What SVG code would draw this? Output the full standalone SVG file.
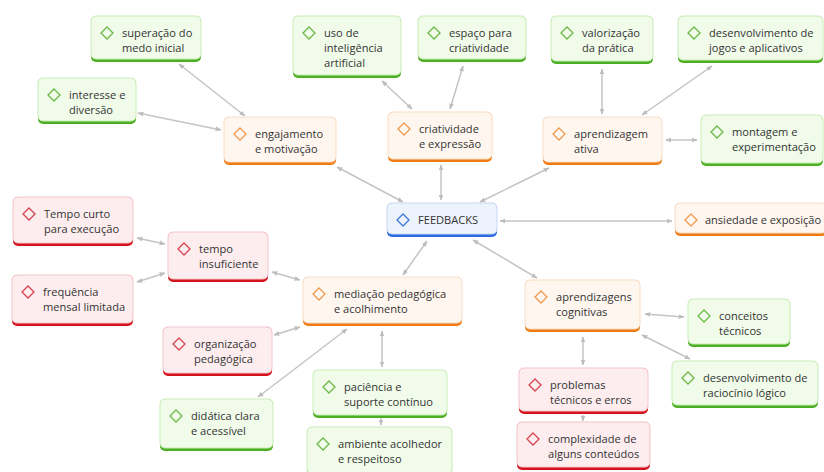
<svg xmlns="http://www.w3.org/2000/svg" width="824" height="472" viewBox="0 0 824 472">
<defs>
<style>
.t{font-family:"Open Sans","Noto Sans","DejaVu Sans",sans-serif;font-size:11.1px;font-weight:500;fill:#333333}
.gb{fill:#f0fbea;stroke:#c9eeb6;stroke-width:1}
.gk{fill:#4caf22}
.gi{fill:none;stroke:#6cb848;stroke-width:1.3}
.ob{fill:#fef6ef;stroke:#f8dcc4;stroke-width:1}
.ok{fill:#f27a12}
.oi{fill:none;stroke:#ef9a50;stroke-width:1.3}
.rb{fill:#fdedef;stroke:#f3c5cb;stroke-width:1}
.rk{fill:#d4141c}
.ri{fill:none;stroke:#d6424f;stroke-width:1.3}
.bb{fill:#edf3fd;stroke:#c6d8f4;stroke-width:1}
.bk{fill:#2a6be0}
.bi{fill:none;stroke:#3b78d6;stroke-width:1.3}
.c path{fill:none;stroke:#c4c4c4;stroke-width:1.5;marker-start:url(#ah);marker-end:url(#ah)}
.c path.one{marker-start:none}
</style>
<marker id="ah" viewBox="0 0 10 10" refX="9" refY="5" markerWidth="6" markerHeight="6" markerUnits="userSpaceOnUse" orient="auto-start-reverse"><path d="M0,1 L10,5 L0,9 z" fill="#bdbdbd"/></marker>
</defs>
<rect width="824" height="472" fill="#ffffff"/>
<g class="c" id="connectors">
<path d="M179,64 L245,116"/>
<path d="M138,113 L221,130"/>
<path d="M382,81 L412,109"/>
<path d="M463,66 L450,109"/>
<path d="M602,69 L602,114"/>
<path d="M712,66 L642,115"/>
<path d="M666,140 L697,140"/>
<path d="M337,167 L403,202"/>
<path d="M441,165 L441,200"/>
<path d="M549,168 L480,202"/>
<path d="M500,221 L672,221"/>
<path d="M427,241 L403,275"/>
<path d="M473,240 L537,278"/>
<path d="M137,238 L165,244"/>
<path d="M137,282 L165,273"/>
<path d="M272,272 L300,280"/>
<path d="M274,335 L300,327"/>
<path d="M258,397 L347,329"/>
<path d="M382,331 L382,367"/>
<path class="one" d="M381,418 L381,425"/>
<path d="M645,314 L684,317"/>
<path d="M642,335 L690,359"/>
<path d="M583,337 L583,365"/>
<path class="one" d="M583,415 L583,421"/>
</g>

<g id="n-superacao"><rect class="gk" x="91" y="16" width="110" height="46" rx="5"/><rect class="gb" x="91" y="16" width="110" height="43" rx="5"/><path class="gi" d="M107,27 l6,6 l-6,6 l-6,-6 z"/><text class="t" x="122" y="37">superação do<tspan x="122" dy="15">medo inicial</tspan></text></g>

<g id="n-interesse"><rect class="gk" x="38" y="78" width="98" height="46" rx="5"/><rect class="gb" x="38" y="78" width="98" height="43" rx="5"/><path class="gi" d="M54,89 l6,6 l-6,6 l-6,-6 z"/><text class="t" x="69" y="99">interesse e<tspan x="69" dy="15">diversão</tspan></text></g>

<g id="n-engajamento"><rect class="ok" x="224" y="117" width="112" height="48" rx="5"/><rect class="ob" x="224" y="117" width="112" height="45" rx="5"/><path class="oi" d="M240,128 l6,6 l-6,6 l-6,-6 z"/><text class="t" x="255" y="138">engajamento<tspan x="255" dy="15">e motivação</tspan></text></g>

<g id="n-usoia"><rect class="gk" x="293" y="16" width="108" height="62" rx="5"/><rect class="gb" x="293" y="16" width="108" height="59" rx="5"/><path class="gi" d="M309,27 l6,6 l-6,6 l-6,-6 z"/><text class="t" x="324" y="37">uso de<tspan x="324" dy="15">inteligência</tspan><tspan x="324" dy="15">artificial</tspan></text></g>

<g id="n-espaco"><rect class="gk" x="418" y="16" width="108" height="46" rx="5"/><rect class="gb" x="418" y="16" width="108" height="43" rx="5"/><path class="gi" d="M434,27 l6,6 l-6,6 l-6,-6 z"/><text class="t" x="449" y="37">espaço para<tspan x="449" dy="15">criatividade</tspan></text></g>

<g id="n-criatividade"><rect class="ok" x="388" y="112" width="104" height="50" rx="5"/><rect class="ob" x="388" y="112" width="104" height="47" rx="5"/><path class="oi" d="M404,123 l6,6 l-6,6 l-6,-6 z"/><text class="t" x="419" y="133">criatividade<tspan x="419" dy="15">e expressão</tspan></text></g>

<g id="n-valorizacao"><rect class="gk" x="551" y="16" width="102" height="48" rx="5"/><rect class="gb" x="551" y="16" width="102" height="45" rx="5"/><path class="gi" d="M567,27 l6,6 l-6,6 l-6,-6 z"/><text class="t" x="582" y="37">valorização<tspan x="582" dy="15">da prática</tspan></text></g>

<g id="n-jogos"><rect class="gk" x="678" y="16" width="145" height="47" rx="5"/><rect class="gb" x="678" y="16" width="145" height="44" rx="5"/><path class="gi" d="M694,27 l6,6 l-6,6 l-6,-6 z"/><text class="t" x="709" y="37">desenvolvimento de<tspan x="709" dy="15">jogos e aplicativos</tspan></text></g>

<g id="n-aprendativa"><rect class="ok" x="543" y="117" width="119" height="48" rx="5"/><rect class="ob" x="543" y="117" width="119" height="45" rx="5"/><path class="oi" d="M559,128 l6,6 l-6,6 l-6,-6 z"/><text class="t" x="574" y="138">aprendizagem<tspan x="574" dy="15">ativa</tspan></text></g>

<g id="n-montagem"><rect class="gk" x="701" y="115" width="122" height="51" rx="5"/><rect class="gb" x="701" y="115" width="122" height="48" rx="5"/><path class="gi" d="M717,126 l6,6 l-6,6 l-6,-6 z"/><text class="t" x="732" y="136">montagem e<tspan x="732" dy="15">experimentação</tspan></text></g>

<g id="n-feedbacks"><rect class="bk" x="387" y="203" width="110" height="34" rx="5"/><rect class="bb" x="387" y="203" width="110" height="31" rx="5"/><path class="bi" d="M403,214 l6,6 l-6,6 l-6,-6 z"/><text class="t" x="418" y="224">FEEDBACKS</text></g>

<g id="n-ansiedade"><rect class="ok" x="675" y="203" width="152" height="33" rx="5"/><rect class="ob" x="675" y="203" width="152" height="30" rx="5"/><path class="oi" d="M691,214 l6,6 l-6,6 l-6,-6 z"/><text class="t" x="705" y="224" textLength="116" lengthAdjust="spacingAndGlyphs">ansiedade e exposição</text></g>

<g id="n-tempocurto"><rect class="rk" x="13" y="197" width="120" height="49" rx="5"/><rect class="rb" x="13" y="197" width="120" height="46" rx="5"/><path class="ri" d="M29,208 l6,6 l-6,6 l-6,-6 z"/><text class="t" x="44" y="218">Tempo curto<tspan x="44" dy="15">para execução</tspan></text></g>

<g id="n-tempoinsuf"><rect class="rk" x="168" y="232" width="100" height="50" rx="5"/><rect class="rb" x="168" y="232" width="100" height="47" rx="5"/><path class="ri" d="M184,243 l6,6 l-6,6 l-6,-6 z"/><text class="t" x="199" y="253">tempo<tspan x="199" dy="15">insuficiente</tspan></text></g>

<g id="n-frequencia"><rect class="rk" x="12" y="275" width="121" height="51" rx="5"/><rect class="rb" x="12" y="275" width="121" height="48" rx="5"/><path class="ri" d="M28,286 l6,6 l-6,6 l-6,-6 z"/><text class="t" x="43" y="296">frequência<tspan x="43" dy="15">mensal limitada</tspan></text></g>

<g id="n-mediacao"><rect class="ok" x="303" y="277" width="159" height="49" rx="5"/><rect class="ob" x="303" y="277" width="159" height="46" rx="5"/><path class="oi" d="M319,288 l6,6 l-6,6 l-6,-6 z"/><text class="t" x="334" y="298">mediação pedagógica<tspan x="334" dy="15">e acolhimento</tspan></text></g>

<g id="n-aprendcog"><rect class="ok" x="525" y="280" width="115" height="52" rx="5"/><rect class="ob" x="525" y="280" width="115" height="49" rx="5"/><path class="oi" d="M541,291 l6,6 l-6,6 l-6,-6 z"/><text class="t" x="556" y="301">aprendizagens<tspan x="556" dy="15">cognitivas</tspan></text></g>

<g id="n-conceitos"><rect class="gk" x="688" y="299" width="102" height="48" rx="5"/><rect class="gb" x="688" y="299" width="102" height="45" rx="5"/><path class="gi" d="M704,310 l6,6 l-6,6 l-6,-6 z"/><text class="t" x="719" y="320">conceitos<tspan x="719" dy="15">técnicos</tspan></text></g>

<g id="n-organizacao"><rect class="rk" x="163" y="327" width="109" height="49" rx="5"/><rect class="rb" x="163" y="327" width="109" height="46" rx="5"/><path class="ri" d="M179,338 l6,6 l-6,6 l-6,-6 z"/><text class="t" x="194" y="348">organização<tspan x="194" dy="15">pedagógica</tspan></text></g>

<g id="n-paciencia"><rect class="gk" x="313" y="370" width="134" height="48" rx="5"/><rect class="gb" x="313" y="370" width="134" height="45" rx="5"/><path class="gi" d="M329,381 l6,6 l-6,6 l-6,-6 z"/><text class="t" x="344" y="391">paciência e<tspan x="344" dy="15">suporte contínuo</tspan></text></g>

<g id="n-didatica"><rect class="gk" x="160" y="399" width="113" height="52" rx="5"/><rect class="gb" x="160" y="399" width="113" height="49" rx="5"/><path class="gi" d="M176,410 l6,6 l-6,6 l-6,-6 z"/><text class="t" x="191" y="420">didática clara<tspan x="191" dy="15">e acessível</tspan></text></g>

<g id="n-ambiente"><rect class="gk" x="307" y="427" width="145" height="50" rx="5"/><rect class="gb" x="307" y="427" width="145" height="47" rx="5"/><path class="gi" d="M323,438 l6,6 l-6,6 l-6,-6 z"/><text class="t" x="338" y="448">ambiente acolhedor<tspan x="338" dy="15">e respeitoso</tspan></text></g>

<g id="n-raciocinio"><rect class="gk" x="672" y="361" width="146" height="47" rx="5"/><rect class="gb" x="672" y="361" width="146" height="44" rx="5"/><path class="gi" d="M688,372 l6,6 l-6,6 l-6,-6 z"/><text class="t" x="703" y="382">desenvolvimento de<tspan x="703" dy="15">raciocínio lógico</tspan></text></g>

<g id="n-problemas"><rect class="rk" x="519" y="368" width="129" height="46" rx="5"/><rect class="rb" x="519" y="368" width="129" height="43" rx="5"/><path class="ri" d="M535,379 l6,6 l-6,6 l-6,-6 z"/><text class="t" x="550" y="389">problemas<tspan x="550" dy="15">técnicos e erros</tspan></text></g>

<g id="n-complexidade"><rect class="rk" x="517" y="422" width="133" height="48" rx="5"/><rect class="rb" x="517" y="422" width="133" height="45" rx="5"/><path class="ri" d="M533,433 l6,6 l-6,6 l-6,-6 z"/><text class="t" x="548" y="443">complexidade de<tspan x="548" dy="15">alguns conteúdos</tspan></text></g>
</svg>
